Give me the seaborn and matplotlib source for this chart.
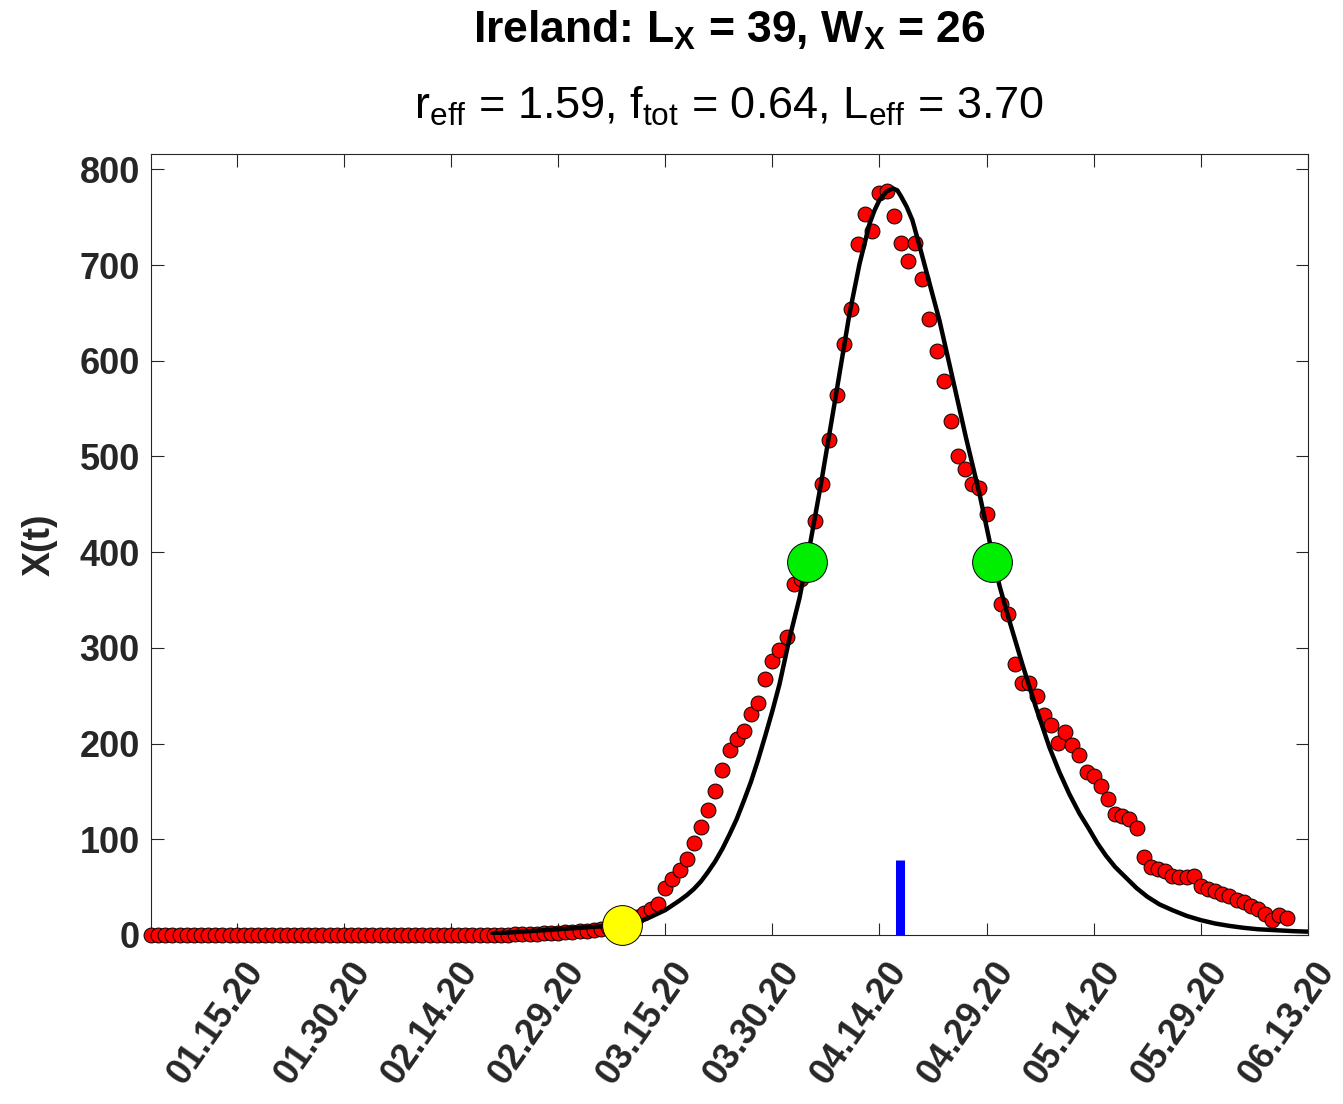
import numpy as np
import pandas as pd
import matplotlib
matplotlib.use("Agg")
import matplotlib.pyplot as plt
import matplotlib.transforms as mtransforms
import seaborn as sns

# ---------------- data ----------------
start_date = "2020-01-03"
end_date = "2020-06-13"

daily_values = [
    0, 0, 0, 0, 0, 0, 0, 0, 0, 0, 0, 0, 0, 0, 0, 0, 0, 0, 0, 0,
    0, 0, 0, 0, 0, 0, 0, 0, 0, 0, 0, 0, 0, 0, 0, 0, 0, 0, 0, 0,
    0, 0, 0, 0, 0, 0, 0, 0,
    0, 0, 0, 1, 1, 1, 1, 2, 2, 2, 3, 3, 4, 4, 5,
    6, 8, 10, 12, 15, 19, 23, 27, 32, 49, 59, 68, 79, 96, 113, 131,
    150, 172, 193, 205, 213, 231, 242, 267, 286, 298, 311, 367, 372, 390,
    433, 471, 517, 564, 618, 654, 722, 753, 736, 775, 777, 751, 723, 704,
    723, 685, 644, 610, 579, 537, 500, 487, 471, 467, 440, 395, 346, 335,
    283, 263, 263, 250, 230, 219, 201, 212, 199, 188, 170, 166, 156, 142,
    126, 124, 121, 112, 81, 71, 69, 67, 62, 61, 61, 62, 51, 48, 46, 43,
    41, 37, 34, 30, 27, 22, 16, 21, 18,
]

# fitted curve (days after start_date, value)
curve_days = [47.8, 52, 56, 60, 63, 66, 68.4, 70, 72, 74, 75, 76, 77, 78, 79,
              80, 81, 82, 83, 84, 85, 86, 87, 88, 89.4, 90.8, 92.2, 93.8,
              95.9, 97.8, 99.2, 100.6, 101.3, 102, 103, 103.9, 104.5, 105,
              105.8, 106.6, 107.5, 108.5, 110.4, 112.2, 114.1, 116, 117.4,
              118.8, 120.2, 122, 123.9, 125.8, 127.2, 128.6, 130, 131.4,
              132.5, 133.7, 135, 136.5, 138, 139.5, 141.2, 143, 145, 147,
              149, 151, 153, 155, 157.5, 160, 162]
curve_values = [1.5, 3.5, 5.5, 7.5, 9, 10.5, 14, 19, 26, 36, 41.5, 48, 56, 66,
                77, 90, 105, 121, 140, 160, 183, 208, 234, 262, 310, 352, 405,
                471, 564, 649, 701, 743, 757, 768, 777, 780, 778, 772, 761,
                747, 723, 695, 642, 583, 520, 461, 412, 365, 328, 283, 238,
                196, 170, 147, 127, 110, 96, 83, 71, 60, 49, 40, 32, 26, 20,
                15.5, 12, 9.5, 7.5, 6, 5, 4, 3.5]

start_marker_day = [65.9]
start_marker_value = [10]
half_max_days = [91.9, 117.8]
half_max_values = [390, 390]
bar_day = 104.9
bar_height = 78

tick_labels = ["01.15.20", "01.30.20", "02.14.20", "02.29.20", "03.15.20",
               "03.30.20", "04.14.20", "04.29.20", "05.14.20", "05.29.20",
               "06.13.20"]
ytick_values = [0, 100, 200, 300, 400, 500, 600, 700, 800]

title_line1 = r"Ireland: L$_{\mathbf{X}}$ = 39, W$_{\mathbf{X}}$ = 26"
title_line2 = r"r$_{\mathrm{eff}}$ = 1.59, f$_{\mathrm{tot}}$ = 0.64, L$_{\mathrm{eff}}$ = 3.70"
ylabel = "X(t)"

# ---------------- build frames ----------------
t0 = pd.Timestamp(start_date)
dates = pd.date_range(t0, periods=len(daily_values), freq="D")
df_pts = pd.DataFrame({"date": dates, "value": daily_values})
df_curve = pd.DataFrame({
    "date": t0 + pd.to_timedelta(curve_days, unit="D"),
    "value": curve_values})
df_start = pd.DataFrame({
    "date": t0 + pd.to_timedelta(start_marker_day, unit="D"),
    "value": start_marker_value})
df_half = pd.DataFrame({
    "date": t0 + pd.to_timedelta(half_max_days, unit="D"),
    "value": half_max_values})
tick_dates = [pd.to_datetime(s, format="%m.%d.%y") for s in tick_labels]

# ---------------- style ----------------
sns.set_style("white")
plt.rcParams['font.family'] = ['Liberation Sans', 'DejaVu Sans']
plt.rcParams['mathtext.fontset'] = 'custom'
plt.rcParams['mathtext.rm'] = 'Liberation Sans'
plt.rcParams['mathtext.it'] = 'Liberation Sans:italic'
plt.rcParams['mathtext.bf'] = 'Liberation Sans:bold'

fig = plt.figure(figsize=(13.43, 11.04), dpi=100)
ax = fig.add_axes([151 / 1343, 1 - 935 / 1104, (1308 - 151) / 1343, (935 - 154) / 1104])

sns.scatterplot(data=df_pts, x="date", y="value", ax=ax, s=115, color="#ff0000",
                edgecolor="black", linewidth=0.7, zorder=3, clip_on=False,
                legend=False)
sns.lineplot(data=df_curve, x="date", y="value", ax=ax, color="black",
             linewidth=3.2, zorder=4, legend=False)
ax.plot([t0 + pd.Timedelta(days=bar_day)] * 2, [0, bar_height], color="#0000ff",
        linewidth=6.5, solid_capstyle="butt", zorder=5)
sns.scatterplot(data=df_half, x="date", y="value", ax=ax, s=820, color="#00ee00",
                edgecolor="black", linewidth=0.7, zorder=6, legend=False)
sns.scatterplot(data=df_start, x="date", y="value", ax=ax, s=820, color="#ffff00",
                edgecolor="black", linewidth=0.7, zorder=6, clip_on=False,
                legend=False)

ax.set_xlim(t0, pd.Timestamp(end_date))
ax.set_ylim(0, 816)
ax.set_xticks(tick_dates)
ax.set_xticklabels(tick_labels)
ax.set_yticks(ytick_values)
ax.set_yticklabels([str(v) for v in ytick_values])

tick_color = "#262626"
ax.tick_params(axis="both", which="both", direction="in", length=9, width=0.8,
               color=tick_color, top=True, right=True, bottom=True, left=True,
               labelsize=26, labelcolor=tick_color, pad=8)
for lab in ax.get_yticklabels():
    lab.set_fontweight("bold")
for lab in ax.get_xticklabels():
    lab.set_fontweight("bold")
    lab.set_rotation(55)
    lab.set_ha("right")
    lab.set_va("center")
    lab.set_rotation_mode("anchor")
    lab.set_transform(lab.get_transform() +
                      mtransforms.ScaledTranslation(0.20, -0.19, fig.dpi_scale_trans))

for sp in ax.spines.values():
    sp.set_color(tick_color)
    sp.set_linewidth(0.8)
    sp.set_visible(True)

ax.set_xlabel("")
ax.set_ylabel(ylabel, fontsize=27, fontweight="bold", color=tick_color, labelpad=16)

fig.text(729.5 / 1343, 1 - 43 / 1104, title_line1, ha="center", va="baseline",
         fontsize=32, fontweight="bold", color="black")
fig.text(729.5 / 1343, 1 - 119 / 1104, title_line2, ha="center", va="baseline",
         fontsize=32.5, color="black")

fig.savefig("out.png", dpi=100)
